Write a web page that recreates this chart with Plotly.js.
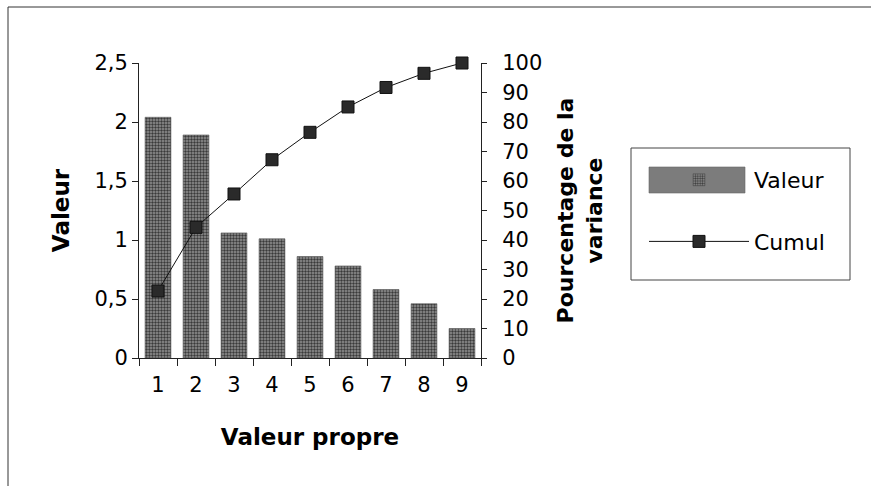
<!DOCTYPE html>
<html>
<head>
<meta charset="utf-8">
<script src="https://cdn.plot.ly/plotly-3.0.1.min.js"></script>
<style>html,body{margin:0;padding:0;background:#fff;}#chart{width:871px;height:486px;}</style>
</head>
<body>
<div id="chart"></div>
<script>
// Data
var categories = ["1", "2", "3", "4", "5", "6", "7", "8", "9"];
var valeur = [2.04, 1.89, 1.06, 1.01, 0.86, 0.78, 0.58, 0.46, 0.25];
var cumul = [22.7, 44.3, 55.6, 67.2, 76.5, 85.1, 91.7, 96.5, 100];
var leftTicks = [0, 0.5, 1, 1.5, 2, 2.5];
var rightTicks = [0, 10, 20, 30, 40, 50, 60, 70, 80, 90, 100];

var FONT = "DejaVu Sans, Liberation Sans, Arial, sans-serif";
var BAR_GREY = "#7c7c7c";

var traces = [
  {
    type: "bar",
    name: "Valeur",
    x: categories,
    y: valeur,
    legendgroup: "a",
    marker: {
      color: BAR_GREY,
      line: {color: "#555", width: 0.6},
      pattern: {shape: ".", fgcolor: "#3a3a3a", bgcolor: "#939393", size: 3, solidity: 0.5}
    },
    yaxis: "y"
  },
  {
    type: "scatter",
    mode: "lines+markers",
    name: "Cumul",
    x: categories,
    y: cumul,
    legendgroup: "b",
    cliponaxis: false,
    line: {color: "#111", width: 1},
    marker: {symbol: "square", size: 12, color: "#2a2a2a", line: {color: "#111", width: 1}},
    yaxis: "y2"
  }
];

// plot area: x 139..481 (342 px), y 63..358 (295 px)
function px(x) { return (x - 139) / 342; }
function py(y) { return (358 - y) / 295; }

var layout = {
  width: 871,
  height: 486,
  paper_bgcolor: "#fff",
  plot_bgcolor: "rgba(0,0,0,0)",
  separators: ", ",
  margin: {l: 139, r: 390, t: 63, b: 128, pad: 0},
  font: {family: FONT, size: 21, color: "#000"},
  bargap: 0.32,
  showlegend: true,
  legend: {
    x: px(644), xanchor: "left",
    y: py(159), yanchor: "top",
    borderwidth: 0,
    bgcolor: "rgba(0,0,0,0)",
    font: {family: FONT, size: 22, color: "#000"},
    itemwidth: 100,
    traceorder: "grouped",
    tracegroupgap: 30
  },
  xaxis: {
    type: "category",
    range: [-0.5, 8.5],
    tickson: "boundaries",
    ticks: "outside",
    ticklen: 7,
    tickcolor: "#222",
    ticklabelstandoff: 8,
    showline: true,
    linecolor: "#222",
    linewidth: 1,
    showgrid: false,
    zeroline: false,
    tickfont: {family: FONT, size: 21},
    title: {text: "<b>Valeur propre</b>", font: {family: FONT, size: 23}, standoff: 32}
  },
  yaxis: {
    range: [0, 2.5],
    tickvals: leftTicks,
    ticks: "outside",
    ticklen: 6,
    tickcolor: "#222",
    showline: true,
    linecolor: "#222",
    linewidth: 1,
    showgrid: false,
    zeroline: false,
    tickfont: {family: FONT, size: 21},
    title: {text: "<b>Valeur</b>", font: {family: FONT, size: 23}, standoff: 18}
  },
  yaxis2: {
    overlaying: "y",
    side: "right",
    range: [0, 100],
    tickvals: rightTicks,
    ticks: "outside",
    ticklen: 5,
    tickcolor: "#222",
    ticklabelstandoff: 11,
    showline: true,
    linecolor: "#222",
    linewidth: 1,
    showgrid: false,
    zeroline: false,
    tickfont: {family: FONT, size: 21},
    title: {text: "<b>Pourcentage de la<br>variance</b>", font: {family: FONT, size: 22}, standoff: 16}
  },
  shapes: [
    // outer frame (left and top edges)
    {type: "line", xref: "paper", yref: "paper", x0: px(8), x1: px(8), y0: py(7), y1: py(486), line: {color: "#333", width: 1}},
    {type: "line", xref: "paper", yref: "paper", x0: px(8), x1: px(871), y0: py(7), y1: py(7), line: {color: "#333", width: 1}},
    // legend box
    {type: "rect", xref: "paper", yref: "paper", x0: px(631), x1: px(850), y0: py(280), y1: py(148), line: {color: "#444", width: 1}, fillcolor: "rgba(0,0,0,0)"},
    // wide legend swatch for bars
    {type: "rect", xref: "paper", yref: "paper", x0: px(649), x1: px(745), y0: py(193), y1: py(167), line: {color: "#666", width: 0.6}, fillcolor: BAR_GREY}
  ]
};

Plotly.newPlot("chart", traces, layout, {displayModeBar: false, staticPlot: true});
</script>
</body>
</html>
